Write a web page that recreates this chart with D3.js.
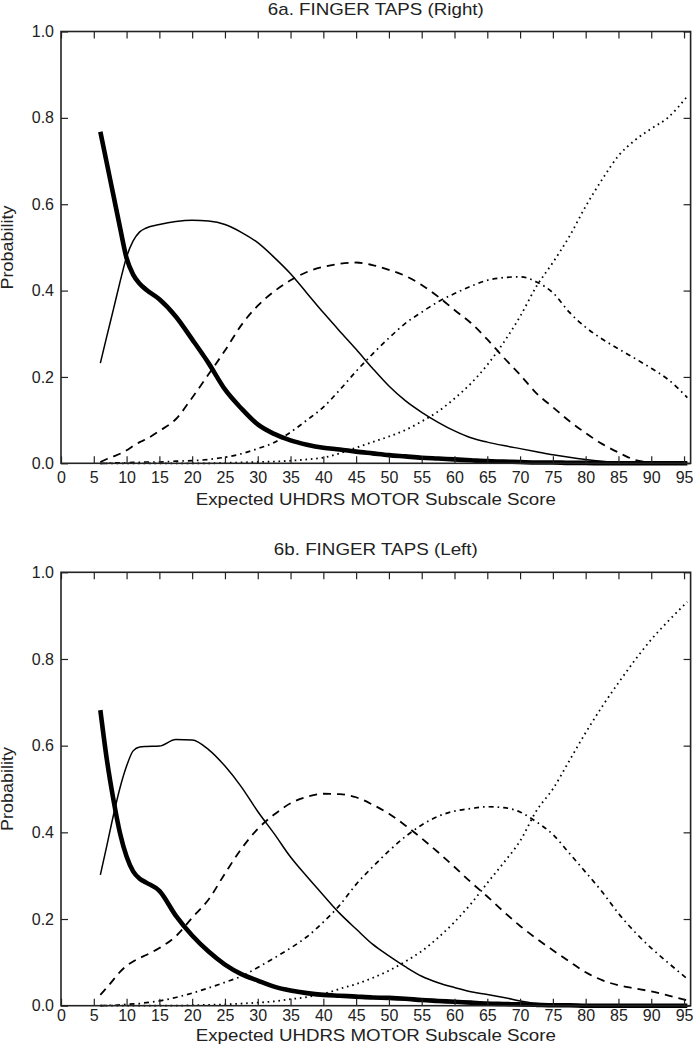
<!DOCTYPE html>
<html>
<head>
<meta charset="utf-8">
<script src="https://cdn.jsdelivr.net/npm/d3@7"></script>
<style>
  html, body { margin: 0; padding: 0; background: #fff; }
  svg { display: block; }
  text { font-family: "Liberation Sans", Arial, Helvetica, sans-serif; fill: #222; }
</style>
</head>
<body>
<svg id="chart" width="693" height="1050"></svg>
<script>
// ---------- data ----------
const xs = [6,7,8,9,10,11,12,13,15,17.5,20,22.5,25,27.5,30,32.5,35,37.5,40,42.5,45,47.5,50,52.5,55,57.5,60,62.5,65,67.5,70,72.5,75,77.5,80,82.5,85,87.5,90,92.5,95.5];

const xTicks = [0,5,10,15,20,25,30,35,40,45,50,55,60,65,70,75,80,85,90,95];
const yTicks = [0,0.2,0.4,0.6,0.8,1.0];

const titles = ["6a. FINGER TAPS (Right)", "6b. FINGER TAPS (Left)"];
const xAxisLabel = "Expected UHDRS MOTOR Subscale Score";
const yAxisLabel = "Probability";

// 6a — Right
const rightScore0 = [0.768,0.694,0.62,0.546,0.475,0.437,0.416,0.402,0.38,0.34,0.287,0.232,0.171,0.127,0.09,0.068,0.053,0.043,0.036,0.032,0.027,0.023,0.019,0.016,0.013,0.011,0.009,0.007,0.005,0.004,0.003,0.002,0.002,0.001,0.001,0,0,0,0,0,0];
const rightScore1 = [0.232,0.295,0.357,0.42,0.478,0.515,0.536,0.545,0.553,0.56,0.563,0.561,0.553,0.535,0.511,0.477,0.439,0.394,0.349,0.306,0.264,0.22,0.179,0.145,0.118,0.095,0.075,0.059,0.049,0.041,0.034,0.027,0.02,0.014,0.009,0.005,0.002,0.001,0,0,0];
const rightScore2 = [0.003,0.01,0.016,0.022,0.03,0.04,0.049,0.056,0.075,0.102,0.152,0.206,0.261,0.32,0.365,0.398,0.424,0.443,0.455,0.462,0.465,0.459,0.448,0.434,0.413,0.386,0.355,0.325,0.287,0.245,0.205,0.162,0.13,0.098,0.07,0.045,0.025,0.008,0.002,0,0];
const rightScore3 = [0,0,0.001,0.001,0.001,0.002,0.002,0.003,0.003,0.005,0.006,0.009,0.014,0.022,0.034,0.048,0.072,0.1,0.13,0.17,0.213,0.253,0.29,0.324,0.35,0.374,0.393,0.41,0.424,0.43,0.432,0.42,0.395,0.35,0.315,0.288,0.265,0.243,0.22,0.195,0.152];
const rightScore4 = [0,0,0,0,0,0,0,0,0,0,0,0,0.001,0.002,0.003,0.004,0.006,0.009,0.013,0.023,0.036,0.049,0.062,0.077,0.097,0.12,0.15,0.185,0.228,0.28,0.34,0.41,0.465,0.525,0.595,0.657,0.712,0.748,0.775,0.80,0.85];

// 6b — Left
const leftScore0 = [0.682,0.567,0.475,0.398,0.344,0.31,0.293,0.284,0.265,0.208,0.162,0.125,0.095,0.073,0.058,0.044,0.035,0.029,0.025,0.023,0.021,0.019,0.018,0.016,0.013,0.011,0.009,0.007,0.005,0.004,0.003,0.002,0.001,0.001,0,0,0,0,0,0,0];
const leftScore1 = [0.302,0.37,0.44,0.503,0.553,0.588,0.597,0.598,0.599,0.614,0.613,0.591,0.553,0.505,0.448,0.397,0.343,0.298,0.255,0.213,0.177,0.142,0.115,0.09,0.068,0.053,0.042,0.032,0.026,0.019,0.011,0.005,0.002,0.001,0,0,0,0,0,0,0];
const leftScore2 = [0.025,0.042,0.06,0.078,0.092,0.102,0.11,0.117,0.133,0.16,0.203,0.245,0.305,0.362,0.408,0.441,0.467,0.482,0.489,0.488,0.481,0.464,0.443,0.416,0.386,0.354,0.32,0.285,0.252,0.217,0.184,0.155,0.128,0.102,0.077,0.059,0.047,0.04,0.033,0.024,0.012];
const leftScore3 = [0,0.001,0.001,0.002,0.003,0.004,0.005,0.007,0.011,0.019,0.029,0.041,0.054,0.068,0.088,0.11,0.133,0.159,0.193,0.232,0.28,0.32,0.357,0.39,0.417,0.437,0.449,0.455,0.459,0.457,0.447,0.424,0.395,0.352,0.308,0.263,0.213,0.17,0.133,0.1,0.062];
const leftScore4 = [0,0,0,0,0,0,0,0,0,0,0.001,0.002,0.003,0.005,0.007,0.01,0.015,0.02,0.027,0.039,0.05,0.064,0.081,0.102,0.126,0.157,0.193,0.235,0.283,0.33,0.38,0.45,0.50,0.565,0.63,0.69,0.745,0.797,0.845,0.886,0.932];

// ---------- styles ----------
const lineStyles = [
  { key: 4, width: 1.8, dash: "1.6,3.8" },
  { key: 3, width: 1.7, dash: "5,4,1.6,4" },
  { key: 2, width: 1.8, dash: "8,6" },
  { key: 1, width: 1.5, dash: null },
  { key: 0, width: 4.6, dash: null }
];

// ---------- layout ----------
const plotLeft = 61, plotRight = 690.6;
const panels = [
  { title: titles[0], titleLen: 216, top: 31.5, bottom: 463.3, titleY: 15, xLabelY: 505, tickPad: 8,
    series: [rightScore0, rightScore1, rightScore2, rightScore3, rightScore4] },
  { title: titles[1], titleLen: 204, top: 572.3, bottom: 1005.7, titleY: 555, xLabelY: 1041, tickPad: 4,
    series: [leftScore0, leftScore1, leftScore2, leftScore3, leftScore4] }
];

const svg = d3.select("#chart");
svg.append("rect").attr("width", 693).attr("height", 1050).attr("fill", "#fff");

const x = d3.scaleLinear().domain([0, 96]).range([plotLeft, plotRight]);

panels.forEach(p => {
  const y = d3.scaleLinear().domain([0, 1]).range([p.bottom, p.top]);
  const g = svg.append("g");

  // curves
  const line = d3.line()
    .x((d, i) => x(xs[i]))
    .y(d => y(d))
    .curve(d3.curveMonotoneX);

  lineStyles.forEach(s => {
    g.append("path")
      .datum(p.series[s.key])
      .attr("d", line)
      .attr("fill", "none")
      .attr("stroke", "#000")
      .attr("stroke-width", s.width)
      .attr("stroke-linecap", "butt")
      .attr("stroke-linejoin", "round")
      .attr("stroke-dasharray", s.dash);
  });

  // axes (inward ticks)
  const axB = g.append("g").attr("transform", `translate(0,${p.bottom})`)
    .call(d3.axisBottom(x).tickValues(xTicks).tickSize(-7).tickPadding(p.tickPad).tickFormat(d3.format("d")));
  const axT = g.append("g").attr("transform", `translate(0,${p.top})`)
    .call(d3.axisTop(x).tickValues(xTicks).tickSize(-7).tickFormat(""));
  const axL = g.append("g").attr("transform", `translate(${plotLeft},0)`)
    .call(d3.axisLeft(y).tickValues(yTicks).tickSize(-7).tickPadding(7).tickFormat(d3.format(".1f")));
  const axR = g.append("g").attr("transform", `translate(${plotRight},0)`)
    .call(d3.axisRight(y).tickValues(yTicks).tickSize(-7).tickFormat(""));

  [axB, axT, axL, axR].forEach(a => {
    a.select(".domain").remove();
    a.selectAll(".tick line").attr("stroke", "#222").attr("stroke-width", 1.2);
    a.selectAll(".tick text").attr("font-size", 16).attr("fill", "#222")
      .style("font-family", '"Liberation Sans", Arial, sans-serif');
  });

  // frame
  g.append("rect")
    .attr("x", plotLeft).attr("y", p.top)
    .attr("width", plotRight - plotLeft).attr("height", p.bottom - p.top)
    .attr("fill", "none").attr("stroke", "#222").attr("stroke-width", 1.6);

  // title
  g.append("text")
    .attr("x", (plotLeft + plotRight) / 2).attr("y", p.titleY)
    .attr("text-anchor", "middle").attr("font-size", 17)
    .attr("textLength", p.titleLen).attr("lengthAdjust", "spacingAndGlyphs")
    .text(p.title);

  // x label
  g.append("text")
    .attr("x", (plotLeft + plotRight) / 2).attr("y", p.xLabelY)
    .attr("text-anchor", "middle").attr("font-size", 16)
    .attr("textLength", 360).attr("lengthAdjust", "spacingAndGlyphs")
    .text(xAxisLabel);

  // y label
  g.append("text")
    .attr("transform", `translate(13,${(p.top + p.bottom) / 2}) rotate(-90)`)
    .attr("text-anchor", "middle").attr("font-size", 16)
    .attr("textLength", 84).attr("lengthAdjust", "spacingAndGlyphs")
    .text(yAxisLabel);
});
</script>
</body>
</html>
